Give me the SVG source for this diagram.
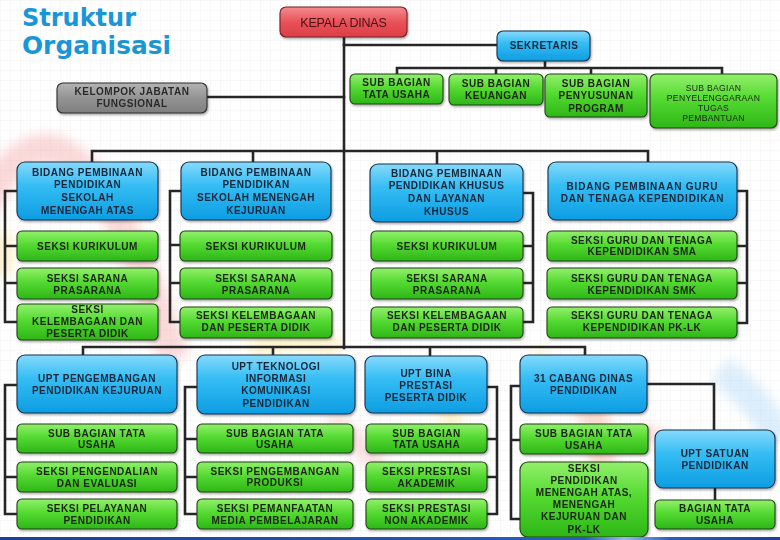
<svg xmlns="http://www.w3.org/2000/svg" width="780" height="540" viewBox="0 0 780 540">
<defs>
<pattern id="grid" width="10" height="10" patternUnits="userSpaceOnUse">
<path d="M10,0 H0 V10" fill="none" stroke="#e9e9e9" stroke-width="0.7"/>
</pattern>
<linearGradient id="gg" x1="0" y1="0" x2="0" y2="1">
<stop offset="0" stop-color="#93f06c"/><stop offset="0.45" stop-color="#55da32"/><stop offset="1" stop-color="#2db617"/>
</linearGradient>
<linearGradient id="bg" x1="0" y1="0" x2="0" y2="1">
<stop offset="0" stop-color="#86dafb"/><stop offset="0.4" stop-color="#36bdf4"/><stop offset="1" stop-color="#0c9de2"/>
</linearGradient>
<linearGradient id="rg" x1="0" y1="0" x2="0" y2="1">
<stop offset="0" stop-color="#f48a8e"/><stop offset="0.5" stop-color="#e9525a"/><stop offset="1" stop-color="#dc3d46"/>
</linearGradient>
<linearGradient id="yg" x1="0" y1="0" x2="0" y2="1">
<stop offset="0" stop-color="#b4b4b4"/><stop offset="0.5" stop-color="#939393"/><stop offset="1" stop-color="#7e7e7e"/>
</linearGradient>
<linearGradient id="bar" x1="0" y1="0" x2="1" y2="0">
<stop offset="0" stop-color="#1d3f96"/><stop offset="0.75" stop-color="#2a5cc0"/><stop offset="0.8" stop-color="#9ab8ee"/><stop offset="0.86" stop-color="#2a5cc0"/><stop offset="1" stop-color="#1d3f96"/>
</linearGradient>
<filter id="sh" x="-10%" y="-10%" width="125%" height="135%">
<feDropShadow dx="1" dy="1.5" stdDeviation="1" flood-color="#000" flood-opacity="0.35"/>
</filter>
<filter id="blur"><feGaussianBlur stdDeviation="6"/></filter>
<style>
.ln{fill:none;stroke:#262626;stroke-width:2.6;stroke-linecap:square;stroke-linejoin:miter}
.g{fill:url(#gg);stroke:#23401b;stroke-width:1.1}
.b{fill:url(#bg);stroke:#17324d;stroke-width:1.1}
.t{font-family:"Liberation Sans",Arial,sans-serif;font-size:10px;font-weight:bold;fill:#1b2516;text-anchor:middle;letter-spacing:0.5px}
.tb{fill:#16263a}
.ttl{font-family:"DejaVu Sans",sans-serif;font-weight:bold;font-size:24px;fill:#1a96d6}
.nodes{filter:url(#sh)}
</style>
</defs>
<rect width="780" height="540" fill="#ffffff"/>
<rect width="780" height="540" fill="url(#grid)"/>
<g id="watermark" filter="url(#blur)" fill="none" opacity="0.4">
<path d="M-15,205 Q70,40 175,360" stroke="#f3a0a0" stroke-width="30"/>
<path d="M250,352 Q300,330 340,350" stroke="#fbe28a" stroke-width="22"/>
<path d="M0,235 Q10,250 0,275" stroke="#fbe28a" stroke-width="18"/>
<path d="M440,400 Q460,420 450,450" stroke="#fbe28a" stroke-width="20"/>
<path d="M540,350 Q545,380 540,410" stroke="#fbe28a" stroke-width="14"/>
<path d="M570,390 Q610,420 600,470" stroke="#f3a890" stroke-width="26"/>
<path d="M640,430 Q670,440 690,470" stroke="#f3b0b0" stroke-width="18"/>
<path d="M720,370 Q760,400 780,440" stroke="#a8d4f6" stroke-width="30"/>
<path d="M330,420 Q360,440 380,470" stroke="#f3b0b0" stroke-width="20"/>
</g>
<text class="ttl" x="22" y="26" textLength="114" lengthAdjust="spacingAndGlyphs">Struktur</text>
<text class="ttl" x="22" y="54" textLength="149" lengthAdjust="spacingAndGlyphs">Organisasi</text>
<g id="connectors">
<path class="ln" d="M344,37 V348"/>
<path class="ln" d="M344,45 H497"/>
<path class="ln" d="M545,61 V68 M397,68 H722 M397,68 V74 M496,68 V74 M591,68 V74 M722,68 V74"/>
<path class="ln" d="M207,97 H344"/>
<path class="ln" d="M92,151 H648 M92,151 V162 M253,151 V162 M437,151 V164 M648,151 V162"/>
<path class="ln" d="M17,191 H5 V322 H17 M5,246 H17 M5,283 H17"/>
<path class="ln" d="M181,191 H170 V322 H180 M170,245 H180 M170,283 H180"/>
<path class="ln" d="M523,193 H533 V322 H523 M533,246 H523 M533,283 H523"/>
<path class="ln" d="M737,191 H747 V323 H737 M747,246 H737 M747,283 H737"/>
<path class="ln" d="M83,347 H585 M83,347 V355 M273,347 V355 M430,347 V356 M585,347 V355"/>
<path class="ln" d="M17,385 H5 V514 H17 M5,439 H17 M5,477 H17"/>
<path class="ln" d="M197,387 H185 V514 H197 M185,439 H197 M185,477 H197"/>
<path class="ln" d="M487,387 H497 V514 H487 M497,439 H487 M497,477 H487"/>
<path class="ln" d="M520,386 H511 V519 H520 M511,440 H520"/>
<path class="ln" d="M647,384 H714 V430"/>
<path class="ln" d="M715,488 V500"/>
</g>
<g class="nodes">
<g id="kepala-dinas"><rect x="280" y="7" width="127" height="30" rx="6" fill="url(#rg)" stroke="#6e2222" stroke-width="1.1"/>
<text x="343.5" y="27" font-family="'Liberation Sans',Arial,sans-serif" font-size="12.5" fill="#451313" text-anchor="middle" letter-spacing="-0.2">KEPALA DINAS</text></g>
<g id="sekretaris"><rect class="b" x="497" y="31" width="93" height="30" rx="6"/>
<text class="t tb" x="544" y="49">SEKRETARIS</text></g>
<g id="sub-tata-usaha"><rect class="g" x="350" y="74" width="93" height="30" rx="5"/>
<text class="t" x="396.5"><tspan x="396.5" y="85.6">SUB BAGIAN</tspan><tspan x="396.5" y="97.6">TATA  USAHA</tspan></text></g>
<g id="sub-keuangan"><rect class="g" x="449" y="74" width="94" height="31" rx="5"/>
<text class="t" x="496"><tspan x="496" y="86.6">SUB BAGIAN</tspan><tspan x="496" y="98.6">KEUANGAN</tspan></text></g>
<g id="sub-penyusunan"><rect class="g" x="545" y="74" width="102" height="43" rx="5"/>
<text class="t" x="596"><tspan x="596" y="86.6">SUB BAGIAN</tspan><tspan x="596" y="98.6">PENYUSUNAN</tspan><tspan x="596" y="111.6">PROGRAM</tspan></text></g>
<g id="sub-penyelenggaraan"><rect class="g" x="650" y="74" width="127" height="54" rx="6"/>
<text class="t" x="713.5" style="font-size:8.6px;font-weight:normal;letter-spacing:0.3px"><tspan x="713.5" y="91">SUB BAGIAN</tspan><tspan x="713.5" y="101.2">PENYELENGGARAAN</tspan><tspan x="713.5" y="111.2">TUGAS</tspan><tspan x="713.5" y="121.2">PEMBANTUAN</tspan></text></g>
<g id="kelompok-jabatan"><rect x="57" y="83" width="150" height="30" rx="6" fill="url(#yg)" stroke="#2e2e2e" stroke-width="1.1"/>
<text class="t" x="132" style="fill:#2b2b2b"><tspan x="132" y="94.6">KELOMPOK JABATAN</tspan><tspan x="132" y="106.6">FUNGSIONAL</tspan></text></g>

<g id="bidang-sma"><rect class="b" x="17" y="162" width="141" height="58" rx="8"/>
<text class="t tb" x="87.5"><tspan x="87.5" y="175.6">BIDANG PEMBINAAN</tspan><tspan x="87.5" y="187.6">PENDIDIKAN</tspan><tspan x="87.5" y="200.6">SEKOLAH</tspan><tspan x="87.5" y="213.6">MENENGAH ATAS</tspan></text></g>
<g id="bidang-smk"><rect class="b" x="181" y="162" width="150" height="58" rx="8"/>
<text class="t tb" x="256"><tspan x="256" y="175.6">BIDANG PEMBINAAN</tspan><tspan x="256" y="187.6">PENDIDIKAN</tspan><tspan x="256" y="200.6">SEKOLAH MENENGAH</tspan><tspan x="256" y="213.6">KEJURUAN</tspan></text></g>
<g id="bidang-khusus"><rect class="b" x="370" y="164" width="153" height="58" rx="8"/>
<text class="t tb" x="446.5"><tspan x="446.5" y="176.6">BIDANG PEMBINAAN</tspan><tspan x="446.5" y="188.6">PENDIDIKAN KHUSUS</tspan><tspan x="446.5" y="201.6">DAN LAYANAN</tspan><tspan x="446.5" y="214.6">KHUSUS</tspan></text></g>
<g id="bidang-guru"><rect class="b" x="548" y="162" width="189" height="58" rx="8"/>
<text class="t tb" x="642.5" style="letter-spacing:0.8px"><tspan x="642.5" y="190.3">BIDANG PEMBINAAN GURU</tspan><tspan x="642.5" y="201.5">DAN TENAGA KEPENDIDIKAN</tspan></text></g>

<g id="c1-kurikulum"><rect class="g" x="17" y="231" width="141" height="30" rx="5"/><text class="t" x="87.5" y="249.6">SEKSI KURIKULUM</text></g>
<g id="c1-sarana"><rect class="g" x="17" y="268" width="141" height="31" rx="5"/><text class="t" x="87.5"><tspan x="87.5" y="281.6">SEKSI  SARANA</tspan><tspan x="87.5" y="293.6">PRASARANA</tspan></text></g>
<g id="c1-kelembagaan"><rect class="g" x="17" y="304" width="141" height="36" rx="5"/><text class="t" x="87.5"><tspan x="87.5" y="312.6">SEKSI</tspan><tspan x="87.5" y="324.6">KELEMBAGAAN  DAN</tspan><tspan x="87.5" y="337.4">PESERTA  DIDIK</tspan></text></g>

<g id="c2-kurikulum"><rect class="g" x="180" y="231" width="152" height="30" rx="5"/><text class="t" x="256" y="249.6">SEKSI KURIKULUM</text></g>
<g id="c2-sarana"><rect class="g" x="180" y="268" width="152" height="31" rx="5"/><text class="t" x="256"><tspan x="256" y="281.6">SEKSI  SARANA</tspan><tspan x="256" y="293.6">PRASARANA</tspan></text></g>
<g id="c2-kelembagaan"><rect class="g" x="180" y="307" width="152" height="31" rx="5"/><text class="t" x="256"><tspan x="256" y="318.6">SEKSI KELEMBAGAAN</tspan><tspan x="256" y="330.6">DAN PESERTA  DIDIK</tspan></text></g>

<g id="c3-kurikulum"><rect class="g" x="371" y="231" width="152" height="30" rx="5"/><text class="t" x="447" y="249.6">SEKSI KURIKULUM</text></g>
<g id="c3-sarana"><rect class="g" x="371" y="268" width="152" height="31" rx="5"/><text class="t" x="447"><tspan x="447" y="281.6">SEKSI  SARANA</tspan><tspan x="447" y="293.6">PRASARANA</tspan></text></g>
<g id="c3-kelembagaan"><rect class="g" x="371" y="307" width="152" height="31" rx="5"/><text class="t" x="447"><tspan x="447" y="318.6">SEKSI KELEMBAGAAN</tspan><tspan x="447" y="330.6">DAN PESERTA  DIDIK</tspan></text></g>

<g id="c4-sma"><rect class="g" x="547" y="231" width="190" height="30" rx="5"/><text class="t" x="642"><tspan x="642" y="243.5">SEKSI GURU DAN TENAGA</tspan><tspan x="642" y="255.2">KEPENDIDIKAN  SMA</tspan></text></g>
<g id="c4-smk"><rect class="g" x="547" y="268" width="190" height="31" rx="5"/><text class="t" x="642"><tspan x="642" y="281.6">SEKSI GURU DAN TENAGA</tspan><tspan x="642" y="293.6">KEPENDIDIKAN  SMK</tspan></text></g>
<g id="c4-pklk"><rect class="g" x="547" y="307" width="190" height="31" rx="5"/><text class="t" x="642"><tspan x="642" y="318.6">SEKSI GURU DAN TENAGA</tspan><tspan x="642" y="330.6">KEPENDIDIKAN  PK-LK</tspan></text></g>

<g id="upt-kejuruan"><rect class="b" x="17" y="355" width="160" height="58" rx="8"/>
<text class="t tb" x="97"><tspan x="97" y="381.6">UPT PENGEMBANGAN</tspan><tspan x="97" y="393.6">PENDIDIKAN  KEJURUAN</tspan></text></g>
<g id="upt-tik"><rect class="b" x="197" y="355" width="158" height="59" rx="8"/>
<text class="t tb" x="276"><tspan x="276" y="369.6">UPT TEKNOLOGI</tspan><tspan x="276" y="381.6">INFORMASI</tspan><tspan x="276" y="394.3">KOMUNIKASI</tspan><tspan x="276" y="406.6">PENDIDIKAN</tspan></text></g>
<g id="upt-bina-prestasi"><rect class="b" x="365" y="356" width="122" height="57" rx="8"/>
<text class="t tb" x="426"><tspan x="426" y="376.6">UPT BINA</tspan><tspan x="426" y="388.6">PRESTASI</tspan><tspan x="426" y="400.6">PESERTA  DIDIK</tspan></text></g>
<g id="cabang-dinas"><rect class="b" x="520" y="355" width="127" height="58" rx="8"/>
<text class="t tb" x="583.5"><tspan x="583.5" y="381.6">31 CABANG  DINAS</tspan><tspan x="583.5" y="393.6">PENDIDIKAN</tspan></text></g>
<g id="upt-satuan"><rect class="b" x="655" y="430" width="120" height="58" rx="8"/>
<text class="t tb" x="715"><tspan x="715" y="456.6">UPT SATUAN</tspan><tspan x="715" y="468.6">PENDIDIKAN</tspan></text></g>

<g id="u1-tu"><rect class="g" x="17" y="424" width="160" height="29" rx="5"/><text class="t" x="97"><tspan x="97" y="436.6">SUB BAGIAN  TATA</tspan><tspan x="97" y="448.4">USAHA</tspan></text></g>
<g id="u1-pengendalian"><rect class="g" x="17" y="462" width="160" height="30" rx="5"/><text class="t" x="97"><tspan x="97" y="475.4">SEKSI PENGENDALIAN</tspan><tspan x="97" y="486.8">DAN EVALUASI</tspan></text></g>
<g id="u1-pelayanan"><rect class="g" x="17" y="499" width="160" height="30" rx="5"/><text class="t" x="97"><tspan x="97" y="511.6">SEKSI  PELAYANAN</tspan><tspan x="97" y="523.6">PENDIDIKAN</tspan></text></g>

<g id="u2-tu"><rect class="g" x="197" y="424" width="156" height="29" rx="5"/><text class="t" x="275"><tspan x="275" y="436.6">SUB BAGIAN  TATA</tspan><tspan x="275" y="448.4">USAHA</tspan></text></g>
<g id="u2-pengembangan"><rect class="g" x="197" y="462" width="156" height="30" rx="5"/><text class="t" x="275"><tspan x="275" y="474.6">SEKSI PENGEMBANGAN</tspan><tspan x="275" y="486">PRODUKSI</tspan></text></g>
<g id="u2-pemanfaatan"><rect class="g" x="197" y="499" width="156" height="30" rx="5"/><text class="t" x="275"><tspan x="275" y="511.6">SEKSI  PEMANFAATAN</tspan><tspan x="275" y="523.6">MEDIA PEMBELAJARAN</tspan></text></g>

<g id="u3-tu"><rect class="g" x="366" y="424" width="121" height="29" rx="5"/><text class="t" x="426.5"><tspan x="426.5" y="436.6">SUB BAGIAN</tspan><tspan x="426.5" y="448.4">TATA  USAHA</tspan></text></g>
<g id="u3-akademik"><rect class="g" x="366" y="462" width="121" height="30" rx="5"/><text class="t" x="426.5"><tspan x="426.5" y="474.8">SEKSI PRESTASI</tspan><tspan x="426.5" y="486.6">AKADEMIK</tspan></text></g>
<g id="u3-non-akademik"><rect class="g" x="366" y="499" width="121" height="30" rx="5"/><text class="t" x="426.5"><tspan x="426.5" y="511.6">SEKSI PRESTASI</tspan><tspan x="426.5" y="523.6">NON AKADEMIK</tspan></text></g>

<g id="u4-tu"><rect class="g" x="520" y="424" width="128" height="30" rx="5"/><text class="t" x="584"><tspan x="584" y="436.8">SUB BAGIAN  TATA</tspan><tspan x="584" y="448.6">USAHA</tspan></text></g>
<g id="u4-seksi"><rect class="g" x="520" y="462" width="128" height="75" rx="8"/><text class="t" x="584"><tspan x="584" y="471.6">SEKSI</tspan><tspan x="584" y="483.6">PENDIDIKAN</tspan><tspan x="584" y="495.6">MENENGAH ATAS,</tspan><tspan x="584" y="507.6">MENENGAH</tspan><tspan x="584" y="520.4">KEJURUAN DAN</tspan><tspan x="584" y="533.4">PK-LK</tspan></text></g>

<g id="u5-tu"><rect class="g" x="655" y="500" width="120" height="29" rx="5"/><text class="t" x="715"><tspan x="715" y="511.8">BAGIAN  TATA</tspan><tspan x="715" y="523.6">USAHA</tspan></text></g>
</g>
<rect x="0" y="537" width="780" height="3" fill="url(#bar)"/>
</svg>
